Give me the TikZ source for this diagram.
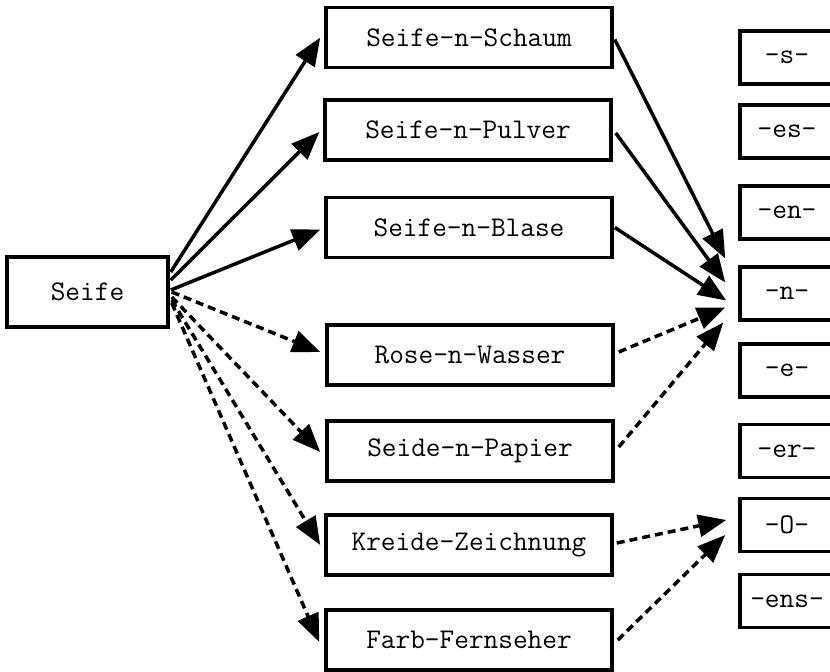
\documentclass[tikz,border=0pt]{standalone}
\usetikzlibrary{arrows.meta}
\begin{document}
\begin{tikzpicture}[x=1pt,y=-1pt,
  txt/.style={font=\fontsize{28.5}{30}\selectfont\ttfamily},
  box/.style={draw, line width=3.5pt, inner sep=0pt, txt},
  midbox/.style={box, minimum width=286pt, minimum height=60pt},
  leftbox/.style={box, minimum width=161pt, minimum height=70pt},
  rightbox/.style={box, minimum width=94pt, minimum height=53pt},
  conn/.style={line width=3.5pt, -{Triangle[length=28pt,width=22pt]}},
  dconn/.style={conn, dash pattern=on 8pt off 5pt}]
\useasboundingbox (0,0) rectangle (830,672);
\clip (0,0) rectangle (830,672);
\fill[white] (0,0) rectangle (830,672);

\node[leftbox] (seife) at (87.5,292) {Seife};

\node[midbox] (schaum) at (469,37.5) {Seife-n-Schaum};
\node[midbox] (pulver) at (468,130) {Seife-n-Pulver};
\node[midbox] (blase) at (469,227.5) {Seife-n-Blase};
\node[midbox] (rose) at (470,355) {Rose-n-Wasser};
\node[midbox] (seide) at (470,451) {Seide-n-Papier};
\node[midbox] (kreide) at (469,545) {Kreide-Zeichnung};
\node[midbox] (farb) at (469,640) {Farb-Fernseher};

\node[rightbox] (s) at (787,57.5) {-s-};
\node[rightbox] (es) at (787,131.5) {-es-};
\node[rightbox] (en) at (787,212.5) {-en-};
\node[rightbox] (n) at (787,293.5) {-n-};
\node[rightbox] (e) at (787,370.5) {-e-};
\node[rightbox] (er) at (787,451) {-er-};
\node[rightbox] (o) at (787,525) {-O-};
\node[rightbox] (ens) at (787,601) {-ens-};

% Seife -> middle
\draw[conn] ([shift={(1,-20)}]seife.east) -- ([shift={(-4,0)}]schaum.west);
\draw[conn] ([shift={(1,-12)}]seife.east) -- ([shift={(-4,2)}]pulver.west);
\draw[conn] ([shift={(1,-2)}]seife.east) -- ([shift={(-4,2)}]blase.west);
\draw[dconn] ([shift={(2,0)}]seife.east) -- ([shift={(-5,-3)}]rose.west);
\draw[dconn] ([shift={(2,5)}]seife.east) -- ([shift={(-5,1)}]seide.west);
\draw[dconn] ([shift={(2,8)}]seife.east) -- ([shift={(-4,0)}]kreide.west);
\draw[dconn] ([shift={(2,11)}]seife.east) -- ([shift={(-5,2)}]farb.west);

% middle -> suffix
\draw[conn] ([shift={(1,2)}]schaum.east) -- ([shift={(-13,-35)}]n.west);
\draw[conn] ([shift={(3,3)}]pulver.east) -- ([shift={(-13,-11)}]n.west);
\draw[conn] ([shift={(1,0)}]blase.east) -- ([shift={(-12,7)}]n.west);
\draw[dconn] ([shift={(4,-3)}]rose.east) -- ([shift={(-13,14)}]n.west);
\draw[dconn] ([shift={(4,-4)}]seide.east) -- ([shift={(-15,29)}]n.west);
\draw[dconn] ([shift={(3,-2)}]kreide.east) -- ([shift={(-12,-5)}]o.west);
\draw[dconn] ([shift={(4,0)}]farb.east) -- ([shift={(-13,10)}]o.west);
\end{tikzpicture}
\end{document}
